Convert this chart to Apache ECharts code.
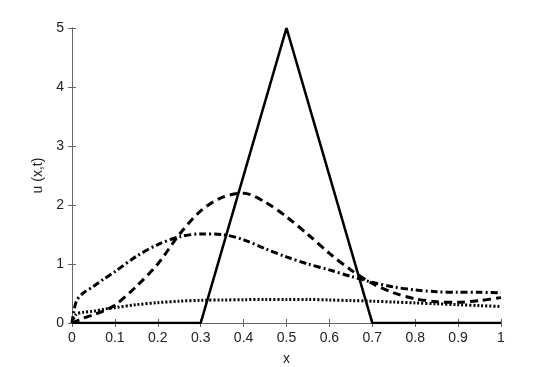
<!DOCTYPE html>
<html>
<head>
<meta charset="utf-8">
<script src="https://cdn.jsdelivr.net/npm/echarts@6/dist/echarts.min.js"></script>
<style>
  html, body { margin: 0; padding: 0; background: #fff; }
  #chart { width: 554px; height: 367px; }
</style>
</head>
<body>
<div id="chart"></div>
<script>
// sample points along x
var xs = [0, 0.01, 0.025, 0.05, 0.075, 0.1, 0.15, 0.2, 0.25, 0.3, 0.35, 0.4, 0.45, 0.5,
  0.55, 0.6, 0.65, 0.7, 0.75, 0.8, 0.85, 0.9, 0.95, 1]
var dashedVals = [0, 0.03, 0.08, 0.14, 0.21, 0.3, 0.62, 1.0, 1.5, 1.9, 2.13, 2.2, 2.05, 1.8,
  1.5, 1.18, 0.9, 0.67, 0.51, 0.41, 0.36, 0.35, 0.38, 0.43]
var dashDotVals = [0, 0.37, 0.5, 0.62, 0.75, 0.87, 1.13, 1.33, 1.46, 1.51, 1.5, 1.41, 1.26, 1.12,
  1.0, 0.9, 0.79, 0.69, 0.61, 0.56, 0.53, 0.52, 0.52, 0.51]
var dottedVals = [0, 0.15, 0.18, 0.2, 0.235, 0.26, 0.31, 0.345, 0.37, 0.385, 0.39, 0.395, 0.4, 0.4,
  0.4, 0.39, 0.38, 0.37, 0.355, 0.34, 0.325, 0.31, 0.295, 0.28]
// initial condition (hat)
var hatX = [0, 0.3, 0.5, 0.7, 1]
var hatVals = [0, 0, 5, 0, 0]

function pairs(x, y) {
  return x.map(function (v, i) { return [v, y[i]] })
}

var axisCol = '#666'
var labelStyle = { color: '#222', fontSize: 14, fontFamily: 'Liberation Sans' }

function lineSeries(data, type) {
  var solid = type === 'solid'
  return {
    type: 'line',
    data: data,
    showSymbol: false,
    smooth: solid ? false : 0.3,
    lineStyle: { color: '#000', width: solid ? 2.6 : 3, type: type, cap: 'butt' },
    animation: false
  }
}

var chart = echarts.init(document.getElementById('chart'))
chart.setOption({
  backgroundColor: '#fff',
  grid: { left: 72, right: 53, top: 28, bottom: 44, outerBoundsMode: 'none' },
  xAxis: [{
    type: 'value', min: 0, max: 1, interval: 0.1,
    name: 'x', nameLocation: 'middle', nameGap: 29,
    nameTextStyle: labelStyle,
    axisLine: { lineStyle: { color: axisCol } },
    axisTick: { inside: true, length: 4, lineStyle: { color: axisCol } },
    axisLabel: labelStyle,
    splitLine: { show: false }
  }, {
    type: 'value', min: 0, max: 1, interval: 0.1, position: 'top',
    axisLine: { show: true, lineStyle: { color: axisCol } },
    axisTick: { show: true, inside: true, length: 4, lineStyle: { color: axisCol } },
    axisLabel: { show: false },
    splitLine: { show: false }
  }],
  yAxis: [{
    type: 'value', min: 0, max: 5, interval: 1,
    name: 'u (x,t)', nameLocation: 'middle', nameGap: 24,
    nameTextStyle: labelStyle,
    axisLine: { show: true, lineStyle: { color: axisCol } },
    axisTick: { show: true, inside: true, length: 4, lineStyle: { color: axisCol } },
    axisLabel: Object.assign({ margin: 8 }, labelStyle),
    splitLine: { show: false }
  }, {
    type: 'value', min: 0, max: 5, interval: 1, position: 'right',
    axisLine: { show: true, lineStyle: { color: axisCol } },
    axisTick: { show: true, inside: true, length: 4, lineStyle: { color: axisCol } },
    axisLabel: { show: false },
    splitLine: { show: false }
  }],
  series: [
    lineSeries(pairs(xs, dottedVals), [2, 2]),
    lineSeries(pairs(xs, dashDotVals), [7, 3, 2, 3]),
    lineSeries(pairs(xs, dashedVals), [8, 5]),
    lineSeries(pairs(hatX, hatVals), 'solid')
  ]
})
</script>
</body>
</html>
